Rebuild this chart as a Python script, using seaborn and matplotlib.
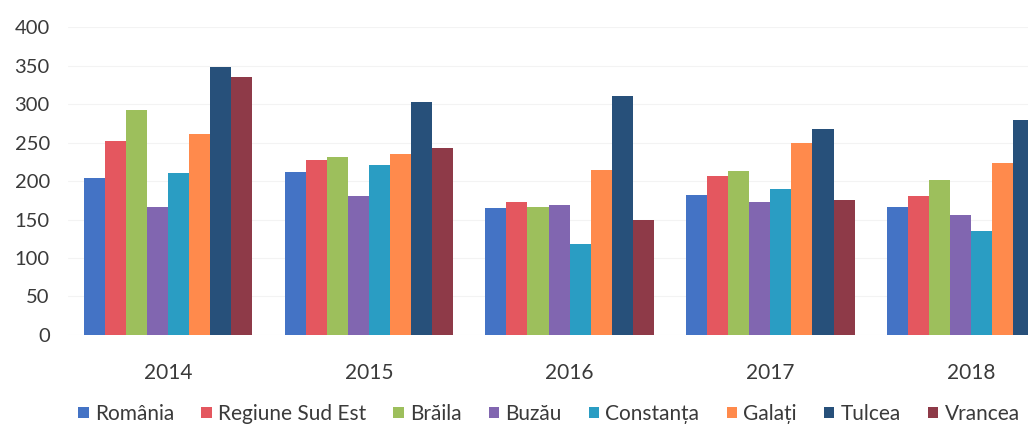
import numpy as np
import pandas as pd
import matplotlib
matplotlib.use("Agg")
import matplotlib.pyplot as plt
import seaborn as sns

years = ["2014", "2015", "2016", "2017", "2018"]
regions = ["România", "Regiune Sud Est", "Brăila", "Buzău", "Constanța",
           "Galați", "Tulcea", "Vrancea"]

romania = [204, 212, 165, 182, 166]
sud_est = [252, 227, 173, 207, 181]
braila = [292, 231, 166, 213, 201]
buzau = [166, 181, 169, 173, 156]
constanta = [210, 221, 118, 190, 135]
galati = [261, 235, 215, 250, 223]
tulcea = [348, 303, 311, 268, 279]
vrancea = [335, 243, 150, 175, 195]

colors = ["#4473C5", "#E4575F", "#9DBF5C", "#8166B0", "#2A9DC3",
          "#FF8A4C", "#27507A", "#8E3A48"]

series = [romania, sud_est, braila, buzau, constanta, galati, tulcea, vrancea]
df = pd.DataFrame(
    [(y, r, v[i]) for r, v in zip(regions, series) for i, y in enumerate(years)],
    columns=["year", "region", "value"],
)

sns.set_theme(style="white")
plt.rcParams["font.family"] = ["Lato", "DejaVu Sans"]

fig = plt.figure(figsize=(10.28, 4.25), dpi=100)
ax = fig.add_axes([0.066, 0.212, 0.934, 0.724])

sns.barplot(data=df, x="year", y="value", hue="region", order=years,
            hue_order=regions, palette=colors, width=0.84, saturation=1,
            linewidth=0, ax=ax)

ax.set_ylim(0, 400)
ax.set_xlim(-0.5, 4.284)
ax.set_yticks(np.arange(0, 401, 50))
ax.yaxis.grid(True, color="#f3f3f3", linewidth=0.8)
ax.set_axisbelow(True)
for s in ax.spines.values():
    s.set_visible(False)
ax.set_xlabel("")
ax.set_ylabel("")
ax.tick_params(axis="both", length=0, colors="#3a3a3a")
ax.tick_params(axis="x", pad=20, labelsize=15)
ax.tick_params(axis="y", pad=13, labelsize=14.5)

handles, labels = ax.get_legend_handles_labels()
ax.legend_.remove()
fig.legend(handles, labels, loc="center", bbox_to_anchor=(0.534, 0.026),
           ncol=8, frameon=False, fontsize=15, handlelength=0.5,
           handleheight=0.5, handletextpad=0.3, columnspacing=1.3,
           labelcolor="#3a3a3a")

fig.savefig("out.png", dpi=100)
